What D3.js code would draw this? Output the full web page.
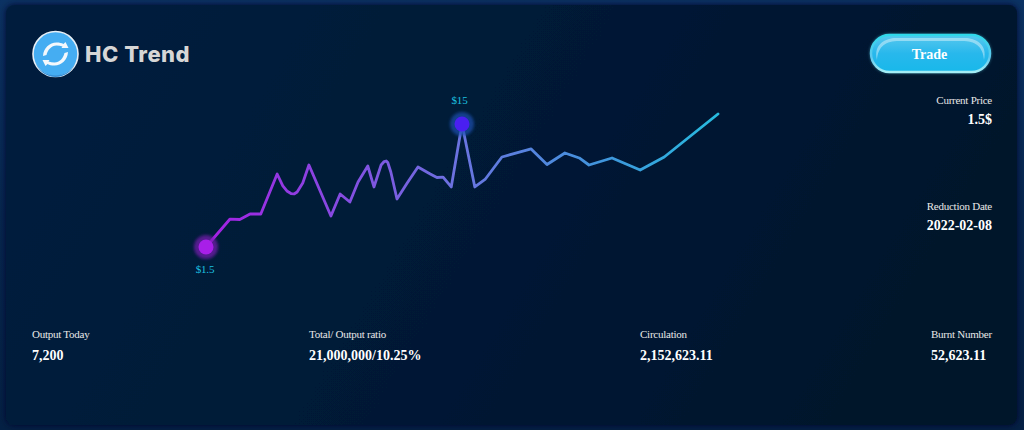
<!DOCTYPE html>
<html>
<head>
<meta charset="utf-8">
<script src="https://cdn.jsdelivr.net/npm/d3@7"></script>
<style>
  html, body { margin: 0; padding: 0; background: #0a2d5a; overflow: hidden; }
  svg { display: block; }
  text { font-family: "Liberation Serif", serif; }
</style>
</head>
<body>
<script>
// share of the time range, 0 to 100
const trendTime = [0, 4.7, 6.6, 8.6, 10.7, 13.9, 15, 15.8, 16.6, 17.2, 17.8, 18.9, 20.1, 24.4, 26.2, 28.1, 29.7, 31.6, 32.8, 34.2, 34.8, 35.2, 35.5, 36.1, 37.3, 39.3, 41.4, 43.8, 45.1, 46.3, 47.9, 50, 52.5, 54.5, 57.8, 63.5, 66.6, 70.1, 72.9, 74.8, 79.3, 84.8, 89.5, 100];
// price in dollars
const trendPrice = [1.5, 4.57, 4.52, 5.12, 5.12, 9.51, 8.2, 7.65, 7.37, 7.32, 7.54, 8.52, 10.5, 4.9, 7.32, 6.44, 8.63, 10.39, 8.09, 10.5, 10.88, 10.94, 10.77, 9.73, 6.77, 8.52, 10.28, 9.51, 9.13, 9.18, 8.09, 15, 8.09, 8.91, 11.38, 12.26, 10.55, 11.82, 11.27, 10.5, 11.27, 9.95, 11.38, 16.1];

const lowIndex = 0;
const highIndex = 31;
const lowLabel = "$1.5";
const highLabel = "$15";

const sideLabels = ["Current Price", "Reduction Date"];
const sideValues = ["1.5$", "2022-02-08"];
const bottomLabels = ["Output Today", "Total/ Output ratio", "Circulation", "Burnt Number"];
const bottomValues = ["7,200", "21,000,000/10.25%", "2,152,623.11", "52,623.11"];

const width = 1024, height = 430;

const x = d3.scaleLinear().domain([0, 100]).range([206, 718]);
const y = d3.scaleLinear().domain([1.5, 15]).range([247, 124]);

const svg = d3.select("body").append("svg")
  .attr("width", width)
  .attr("height", height);

const defs = svg.append("defs");

function addGradient(id, x1, y1, x2, y2, stops, units) {
  const g = defs.append("linearGradient").attr("id", id)
    .attr("x1", x1).attr("y1", y1).attr("x2", x2).attr("y2", y2);
  if (units) g.attr("gradientUnits", units);
  stops.forEach(s => g.append("stop").attr("offset", s[0]).attr("stop-color", s[1]));
}

addGradient("outerBg", 0, 0, 0, 1, [[0, "#0b3263"], [0.5, "#06264f"], [1, "#042044"]]);
addGradient("cardBg", 0, 0, 1, 0.25, [[0, "#001d3e"], [0.5, "#001a37"], [1, "#00132c"]]);
addGradient("lineColor", x(0), 0, x(100), 0, [[0, "#a51fe3"], [0.5, "#6a74e0"], [0.78, "#3f96dc"], [1, "#27bbdf"]], "userSpaceOnUse");
addGradient("btnFill", 0, 0, 0, 1, [[0, "#58c8ee"], [0.5, "#28b8ec"], [1, "#18b8ea"]]);
addGradient("btnEdge", 0, 0, 0, 1, [[0, "#2fd8ea"], [0.6, "#5fc8ee"], [1, "#a4eef6"]]);

const blur = defs.append("filter").attr("id", "glow")
  .attr("x", "-20%").attr("y", "-40%").attr("width", "140%").attr("height", "180%");
blur.append("feGaussianBlur").attr("stdDeviation", 1.5);

const soft = defs.append("filter").attr("id", "soft")
  .attr("x", "-10%").attr("y", "-20%").attr("width", "120%").attr("height", "140%");
soft.append("feGaussianBlur").attr("stdDeviation", 0.7);

const cardShadow = defs.append("filter").attr("id", "cardShadow")
  .attr("x", "-2%").attr("y", "-2%").attr("width", "104%").attr("height", "104%");
cardShadow.append("feDropShadow").attr("dx", 0).attr("dy", 0).attr("stdDeviation", 3)
  .attr("flood-color", "#001028").attr("flood-opacity", 0.9);

// page + card
svg.append("rect").attr("width", width).attr("height", height).attr("fill", "url(#outerBg)");
svg.append("rect")
  .attr("x", 6).attr("y", 5).attr("width", 1011).attr("height", 420).attr("rx", 8)
  .attr("fill", "url(#cardBg)")
  .attr("filter", "url(#cardShadow)");

// logo
const logo = svg.append("g").attr("transform", "translate(55.5,54)");
logo.append("circle").attr("r", 22.5).attr("fill", "#45adf2").attr("stroke", "#e6eef5").attr("stroke-width", 1.6);
logo.append("path").attr("d", "M-20.6 6 A21 21 0 0 0 20.6 6 A21 19 0 0 1 -20.6 6 Z").attr("fill", "#3490d8");
const arcPath = "M-12.5 2 C-12 -6 -6 -11.5 1 -11.5 C4 -11.5 6 -11 8 -10 L10 -12 L13 -6 L6 -6 L7 -7.5 C5 -8 3 -8.5 1 -8.5 C-4 -8.5 -8 -4 -9 1 Z";
logo.append("path").attr("d", arcPath).attr("fill", "#f4f8fc");
logo.append("path").attr("d", arcPath).attr("fill", "#f4f8fc").attr("transform", "rotate(180)");

svg.append("text")
  .attr("x", 85).attr("y", 61.5)
  .style("font-family", "Inter, sans-serif")
  .style("font-weight", 800).style("font-size", "22px")
  .style("letter-spacing", "0.5px")
  .attr("fill", "#d6d6d6")
  .text("HC Trend");

// trade button
const btn = svg.append("g");
btn.append("rect")
  .attr("x", 870).attr("y", 34).attr("width", 121).attr("height", 39).attr("rx", 19.5)
  .attr("fill", "#5fdcf4").attr("opacity", 0.55).attr("filter", "url(#glow)");
btn.append("rect")
  .attr("x", 871).attr("y", 35).attr("width", 119).attr("height", 37).attr("rx", 18.5)
  .attr("fill", "url(#btnFill)").attr("stroke", "url(#btnEdge)").attr("stroke-width", 2.4);
btn.append("path")
  .attr("d", "M877 60 C873 44 886 38 896 38 L965 38 C975 38 988 44 984 60 C983 46 975 41 962 41 L899 41 C886 41 878 46 877 60 Z")
  .attr("fill", "#ffffff").attr("opacity", 0.4).attr("filter", "url(#soft)");
btn.append("text")
  .attr("x", 929.5).attr("y", 59).attr("text-anchor", "middle")
  .style("font-weight", 700).style("font-size", "14px")
  .attr("fill", "#ffffff").text("Trade");

// trend line
const points = trendTime.map((t, i) => ({ t: t, price: trendPrice[i] }));
const line = d3.line().x(d => x(d.t)).y(d => y(d.price)).curve(d3.curveLinear);

svg.append("path")
  .datum(points)
  .attr("d", line)
  .attr("fill", "none")
  .attr("stroke", "url(#lineColor)")
  .attr("stroke-width", 2.8)
  .attr("stroke-linejoin", "round")
  .attr("stroke-linecap", "round");

// high and low markers
const markers = [
  { p: points[lowIndex], fill: "#a81fe8", halo: "#7a1cb4", label: lowLabel, dy: 26, dx: -1 },
  { p: points[highIndex], fill: "#4a1ff0", halo: "#1c50b0", label: highLabel, dy: -20, dx: -2.5 }
];

svg.selectAll(".halo").data(markers).enter().append("circle")
  .attr("class", "halo")
  .attr("cx", d => x(d.p.t)).attr("cy", d => y(d.p.price))
  .attr("r", 12)
  .attr("fill", d => d.halo).attr("opacity", 0.7)
  .attr("filter", "url(#glow)");

svg.selectAll(".dot").data(markers).enter().append("circle")
  .attr("class", "dot")
  .attr("cx", d => x(d.p.t)).attr("cy", d => y(d.p.price))
  .attr("r", 7.5)
  .attr("fill", d => d.fill);

svg.selectAll(".mark-label").data(markers).enter().append("text")
  .attr("class", "mark-label")
  .attr("x", d => x(d.p.t) + d.dx).attr("y", d => y(d.p.price) + d.dy)
  .attr("text-anchor", "middle")
  .style("font-size", "11px")
  .style("letter-spacing", "-0.2px")
  .attr("fill", "#1cc0e0")
  .text(d => d.label);

// right column
const sideY = [104, 210];
sideLabels.forEach((s, i) => {
  svg.append("text").attr("x", 992).attr("y", sideY[i]).attr("text-anchor", "end")
    .style("font-size", "11px").style("letter-spacing", "-0.25px")
    .attr("fill", "#e8e8e8").text(s);
  svg.append("text").attr("x", 992).attr("y", sideY[i] + 20).attr("text-anchor", "end")
    .style("font-weight", 700).style("font-size", "14px").attr("fill", "#ffffff").text(sideValues[i]);
});

// bottom row
const bottomX = [32, 309, 640, 931];
bottomLabels.forEach((s, i) => {
  svg.append("text").attr("x", bottomX[i]).attr("y", 338)
    .style("font-size", "11px").style("letter-spacing", "-0.25px")
    .attr("fill", "#e8e8e8").text(s);
  svg.append("text").attr("x", bottomX[i]).attr("y", 360)
    .style("font-weight", 700).style("font-size", "14px").attr("fill", "#ffffff").text(bottomValues[i]);
});
</script>
</body>
</html>
